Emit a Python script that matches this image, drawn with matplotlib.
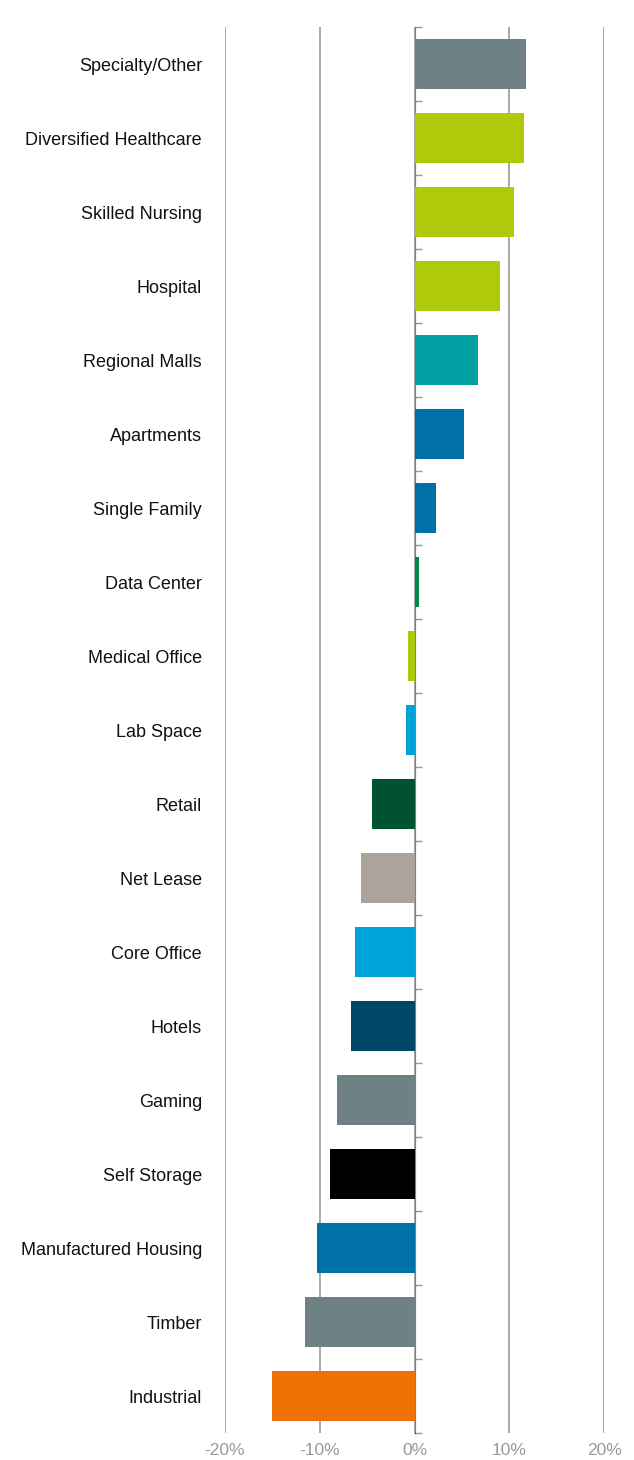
import matplotlib
matplotlib.use("Agg")
import matplotlib.pyplot as plt
import numpy as np
from matplotlib.ticker import FuncFormatter

# Categories top to bottom
sectors = ["Specialty/Other", "Diversified Healthcare", "Skilled Nursing", "Hospital",
           "Regional Malls", "Apartments", "Single Family", "Data Center",
           "Medical Office", "Lab Space", "Retail", "Net Lease", "Core Office",
           "Hotels", "Gaming", "Self Storage", "Manufactured Housing", "Timber",
           "Industrial"]
returns = [11.7, 11.5, 10.45, 9.0, 6.7, 5.2, 2.3, 0.5, -0.65, -0.9, -4.45, -5.7,
           -6.3, -6.75, -8.2, -8.9, -10.35, -11.6, -15.0]
bar_colors = ["#6E8185", "#AFCA0B", "#AFCA0B", "#AFCA0B", "#009FA2", "#0071A8",
              "#0071A8", "#00874A", "#AFCA0B", "#00A3D9", "#005230", "#ACA39A",
              "#00A3D9", "#004868", "#6E8185", "#000000", "#0071A8", "#6E8185",
              "#EE7203"]
xticks = [-20, -10, 0, 10, 20]

plt.rcParams['font.family'] = ['Liberation Sans', 'DejaVu Sans']

fig = plt.figure(figsize=(6.34, 14.6), dpi=100)
ax = fig.add_axes([225/634, 1 - 1433/1460, (604.3 - 225)/634, (1433 - 27)/1460])

n = len(sectors)
ypos = np.arange(n)
ax.barh(ypos, returns, height=0.67, color=bar_colors, zorder=3)

ax.set_xlim(-20, 20)
ax.set_ylim(n - 0.5, -0.5)
ax.set_xticks(xticks)
ax.xaxis.set_major_formatter(FuncFormatter(lambda v, p: f"{v:.0f}%"))
ax.tick_params(axis='x', length=0, pad=7, labelsize=12.5, labelcolor="#999999")
ax.set_yticks(ypos)
ax.set_yticklabels(sectors)
ax.tick_params(axis='y', length=0, pad=16.5, labelsize=13, labelcolor="#111111")

for s in ax.spines.values():
    s.set_visible(False)
ax.grid(axis='x', color="#9a9a9a", linewidth=1.2, zorder=1)

# zero axis with category boundary ticks
sec = ax.secondary_yaxis(0.5)
sec.set_yticks(np.arange(n + 1) - 0.5)
sec.set_yticklabels([])
sec.tick_params(axis='y', length=5, width=1, color="#9a9a9a", direction='out')
sec.spines['left'].set_color("#9a9a9a")
sec.spines['left'].set_linewidth(1.2)

fig.savefig("out.png", dpi=100)
